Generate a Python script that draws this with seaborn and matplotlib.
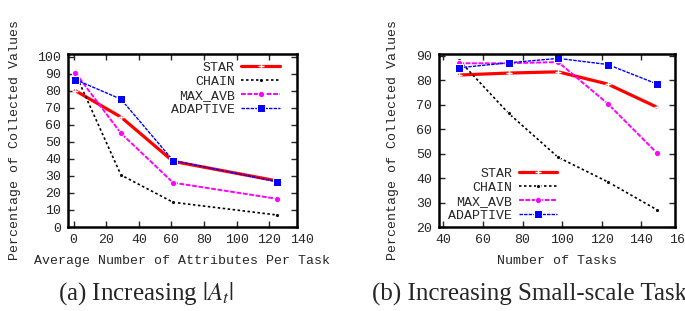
import numpy as np
import pandas as pd
import seaborn as sns
import matplotlib.pyplot as plt
from matplotlib import transforms

# (a) increasing attributes per task
attrs_x = [1, 29, 61, 125]
attrs_star = [80, 64.5, 38.5, 27]
attrs_chain = [90, 30.5, 14.5, 7]
attrs_maxavb = [90.5, 55, 26, 16.5]
attrs_adaptive = [86.5, 75, 39, 26.5]

# (b) increasing small-scale tasks
tasks_x = [48, 73, 98, 123, 148]
tasks_star = [82.2, 83, 83.5, 78.5, 69]
tasks_chain = [88.2, 66.5, 48.5, 38.5, 27]
tasks_maxavb = [87, 87, 87.5, 70.5, 50.2]
tasks_adaptive = [85.2, 87.2, 89, 86.5, 78.5]

series = ["STAR", "CHAIN", "MAX_AVB", "ADAPTIVE"]

sns.set_theme(style="white")
plt.rcParams["font.family"] = ["Liberation Mono", "DejaVu Sans Mono"]
plt.rcParams["mathtext.fontset"] = "stix"

styles = {
    "STAR": dict(color="#ff0000", lw=2.3, ls="-", marker="+", ms=4, mew=1),
    "CHAIN": dict(color="black", lw=1.2, ls=(0, (1.5, 1.5)), marker="o", ms=3),
    "MAX_AVB": dict(color="#ff00ff", lw=1.4, ls=(0, (2.5, 0.8)), marker="o", ms=4.5),
    "ADAPTIVE": dict(color="#0000ff", lw=1.0, ls=(0, (2.5, 0.8)), marker="s", ms=6),
}

fig = plt.figure(figsize=(6.85, 3.11), dpi=100)
W, H = 685, 311
ax1 = fig.add_axes([68 / W, 1 - 227 / H, 229 / W, 173 / H])
ax2 = fig.add_axes([439 / W, 1 - 227 / H, 236 / W, 173 / H])

fs = 9.5


def draw(ax, x, ys):
    for name, y in zip(series, ys):
        df = pd.DataFrame({"x": x, "y": y})
        sns.lineplot(data=df, x="x", y="y", ax=ax, label=name, **styles[name])


draw(ax1, attrs_x, [attrs_star, attrs_chain, attrs_maxavb, attrs_adaptive])
draw(ax2, tasks_x, [tasks_star, tasks_chain, tasks_maxavb, tasks_adaptive])

ax1.set_xlim(-3.5, 137)
ax1.set_ylim(0, 101.5)
ax1.set_xticks(range(0, 140, 20))
ax1.set_yticks(range(0, 101, 10))
ax1.set_xlabel("Average Number of Attributes Per Task", fontsize=fs)

ax2.set_xlim(37.8, 157)
ax2.set_ylim(20, 90.8)
ax2.set_xticks(range(40, 160, 20))
ax2.set_yticks(range(20, 91, 10))
ax2.set_xlabel("Number of Tasks", fontsize=fs)

# gnuplot prints the last tick label just past the frame
for ax, xv in [(ax1, 140), (ax2, 160)]:
    tr = transforms.blended_transform_factory(ax.transData, ax.transAxes)
    ax.text(xv, -0.075, str(xv), transform=tr, ha="center", va="center",
            fontsize=fs, clip_on=False)

for ax, lx in [(ax1, -0.205), (ax2, -0.17)]:
    ax.set_ylabel("Percentage of Collected Values", fontsize=fs)
    ax.yaxis.set_label_coords(lx, 0.5)
    ax.xaxis.set_label_coords(0.5, -0.16)
    ax.tick_params(direction="in", length=4, width=1, labelsize=fs,
                   top=True, right=True, bottom=True, left=True, pad=5)
    for sp in ax.spines.values():
        sp.set_linewidth(1.8)
        sp.set_color("black")

leg_kw = dict(frameon=False, markerfirst=False, numpoints=1, fontsize=fs,
              handlelength=2.9, handletextpad=0.5, labelspacing=0.14,
              borderpad=0.2)
leg1 = ax1.legend(loc="upper right", bbox_to_anchor=(0.965, 1.01), **leg_kw)
leg2 = ax2.legend(loc="lower left", bbox_to_anchor=(0.0, -0.025), **leg_kw)
for leg in (leg1, leg2):
    for col in leg._legend_handle_box.get_children():
        col.align = "right"

fig.text(58 / W, 1 - 294 / H, r"(a) Increasing $|A_t|$", ha="left",
         va="center", fontsize=18, family="Liberation Serif")
fig.text(372 / W, 1 - 294 / H, "(b) Increasing Small-scale Tasks", ha="left",
         va="center", fontsize=18, family="Liberation Serif")

fig.savefig("out.png", dpi=100)
